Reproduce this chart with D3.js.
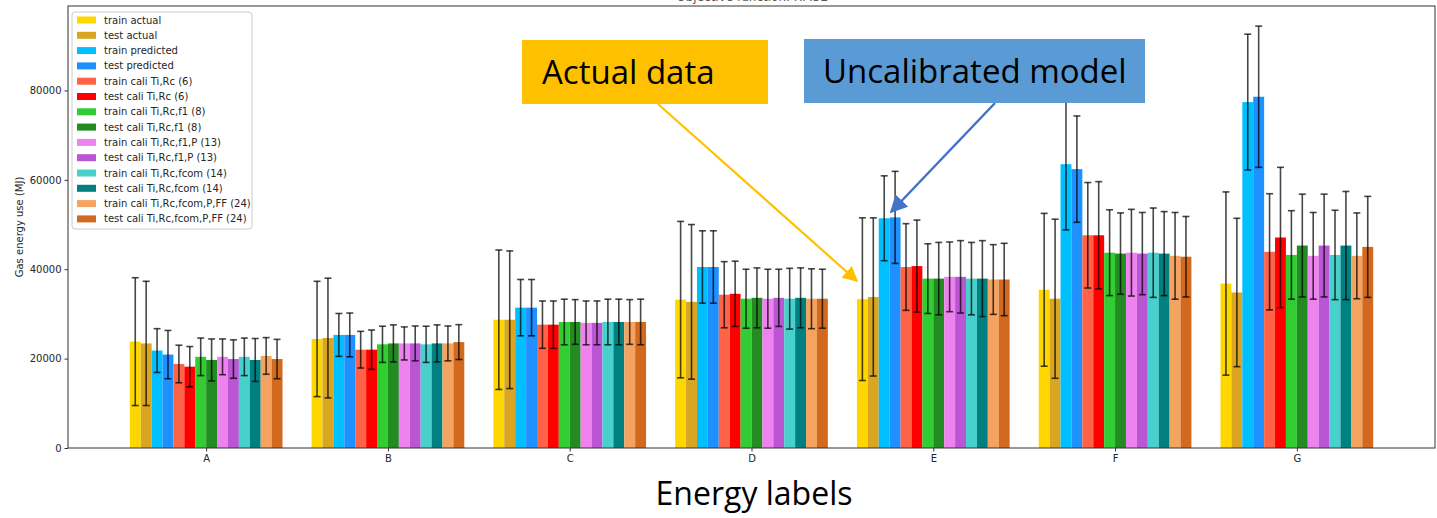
<!DOCTYPE html>
<html>
<head>
<meta charset="utf-8">
<script src="https://cdn.jsdelivr.net/npm/d3@7"></script>
<style>
  body { margin: 0; background: #fff; }
  svg { display: block; }
</style>
</head>
<body>
<div id="chart"></div>
<script>
// energy label categories
let categories = ['A', 'B', 'C', 'D', 'E', 'F', 'G']

let seriesNames = [
    'train actual', 'test actual', 'train predicted', 'test predicted',
    'train cali Ti,Rc (6)', 'test cali Ti,Rc (6)',
    'train cali Ti,Rc,f1 (8)', 'test cali Ti,Rc,f1 (8)',
    'train cali Ti,Rc,f1,P (13)', 'test cali Ti,Rc,f1,P (13)',
    'train cali Ti,Rc,fcom (14)', 'test cali Ti,Rc,fcom (14)',
    'train cali Ti,Rc,fcom,P,FF (24)', 'test cali Ti,Rc,fcom,P,FF (24)'
]

let seriesColors = [
    '#FFD700', '#DAA520', '#00BFFF', '#1E90FF', '#FF6347', '#FF0000', '#32CD32',
    '#228B22', '#EE82EE', '#BA55D3', '#48D1CC', '#008080', '#F4A460', '#D2691E'
]

// mean gas use per label (MJ), one row per series
let means = [
    [23800, 24400, 28700, 33200, 33300, 35400, 36800],
    [23400, 24600, 28700, 32700, 33800, 33400, 34800],
    [21800, 25300, 31400, 40500, 51400, 63500, 77400],
    [20900, 25300, 31400, 40500, 51600, 62400, 78600],
    [18800, 22000, 27600, 34300, 40500, 47600, 43900],
    [18200, 22000, 27600, 34500, 40700, 47600, 47100],
    [20400, 23200, 28200, 33400, 37900, 43700, 43200],
    [19700, 23400, 28200, 33600, 37900, 43500, 45300],
    [20400, 23400, 28000, 33400, 38300, 43700, 43000],
    [19900, 23400, 28000, 33600, 38300, 43500, 45300],
    [20400, 23200, 28200, 33400, 37900, 43700, 43200],
    [19700, 23400, 28200, 33600, 37900, 43500, 45300],
    [20600, 23400, 28200, 33400, 37700, 43000, 43000],
    [19900, 23700, 28200, 33400, 37700, 42800, 45000]
]

// standard deviation (error bars)
let stds = [
    [14300, 12900, 15600, 17500, 18200, 17100, 20500],
    [13900, 13400, 15400, 17300, 17700, 17800, 16600],
    [4900, 4800, 6300, 8100, 9500, 14700, 15200],
    [5400, 4900, 6300, 8100, 10300, 11900, 15800],
    [4200, 4100, 5300, 7400, 9700, 11800, 13000],
    [4500, 4400, 5300, 7300, 10300, 12000, 15700],
    [4200, 4050, 5100, 6600, 7800, 9600, 9900],
    [4700, 4150, 5000, 6700, 8100, 9100, 11500],
    [4000, 3700, 4900, 6600, 7800, 9700, 9700],
    [4300, 3900, 4900, 6400, 8100, 9200, 11500],
    [4200, 4050, 5100, 6800, 8100, 10000, 10000],
    [4800, 4150, 5100, 6700, 8500, 9400, 12100],
    [4100, 3900, 5000, 6700, 7800, 9700, 9600],
    [4400, 3900, 5100, 6600, 8100, 9000, 11300]
]

let yTicks = [0, 20000, 40000, 60000, 80000]

var width = 1437, height = 518
var margin = { top: 6, right: 2, bottom: 70, left: 68 }
var barW = 0.06

var svg = d3.select('#chart').append('svg')
    .attr('width', width)
    .attr('height', height)
    .style('font-family', 'DejaVu Sans, sans-serif')

var x = d3.scaleLinear()
    .domain([-0.76, 6.76])
    .range([margin.left, width - margin.right])

var y = d3.scaleLinear()
    .domain([0, 98900])
    .range([height - margin.bottom, margin.top])

// title, cut off at the top edge as in the original screenshot
svg.append('text')
    .attr('x', 752).attr('y', 1)
    .attr('text-anchor', 'middle')
    .attr('font-size', 12)
    .attr('fill', '#555')
    .text('Objective function: RMSE')

// bars
seriesNames.forEach(function (name, s) {
    var rows = categories.map((c, i) => ({ i: i, m: means[s][i], sd: stds[s][i] }))
    var off = (s - 6.5) * barW
    var g = svg.append('g').attr('class', 'series')

    g.selectAll('rect')
        .data(rows)
        .enter()
        .append('rect')
        .attr('x', d => x(d.i + off - barW / 2))
        .attr('width', x(barW) - x(0))
        .attr('y', d => y(d.m))
        .attr('height', d => y(0) - y(d.m))
        .attr('fill', seriesColors[s])
})

// error bars on top of all bars
seriesNames.forEach(function (name, s) {
    var off = (s - 6.5) * barW
    var rows = categories.map((c, i) => ({ cx: x(i + off), lo: means[s][i] - stds[s][i], hi: means[s][i] + stds[s][i] }))
    var g = svg.append('g').attr('class', 'err')
        .attr('stroke', '#000')
        .attr('stroke-opacity', 0.72)
        .attr('stroke-width', 1.6)
    g.selectAll('line.v').data(rows).enter().append('line').attr('class', 'v')
        .attr('x1', d => d.cx).attr('x2', d => d.cx)
        .attr('y1', d => y(d.lo)).attr('y2', d => y(d.hi))
    g.selectAll('line.t').data(rows).enter().append('line').attr('class', 't')
        .attr('x1', d => d.cx - 3.5).attr('x2', d => d.cx + 3.5)
        .attr('y1', d => y(d.hi)).attr('y2', d => y(d.hi))
    g.selectAll('line.b').data(rows).enter().append('line').attr('class', 'b')
        .attr('x1', d => d.cx - 3.5).attr('x2', d => d.cx + 3.5)
        .attr('y1', d => y(d.lo)).attr('y2', d => y(d.lo))
})

// axes
var xAxis = svg.append('g')
    .attr('transform', 'translate(0,' + y(0) + ')')
    .call(d3.axisBottom(x).tickValues(d3.range(categories.length)).tickFormat(i => categories[i]).tickSize(3.5).tickSizeOuter(0))
var yAxis = svg.append('g')
    .attr('transform', 'translate(' + margin.left + ',0)')
    .call(d3.axisLeft(y).tickValues(yTicks).tickFormat(d3.format('d')).tickSize(3.5).tickSizeOuter(0))

;[xAxis, yAxis].forEach(function (a) {
    a.select('.domain').remove()
    a.selectAll('line').attr('stroke', '#333')
    a.selectAll('text').attr('fill', '#262626').attr('font-size', 10).attr('font-family', 'DejaVu Sans, sans-serif')
})

// frame
svg.append('rect')
    .attr('x', margin.left).attr('y', margin.top)
    .attr('width', width - margin.right - margin.left)
    .attr('height', y(0) - margin.top)
    .attr('fill', 'none')
    .attr('stroke', '#333')
    .attr('stroke-width', 1)

svg.append('text')
    .attr('transform', 'translate(23,' + (margin.top + y(0)) / 2 + ') rotate(-90)')
    .attr('text-anchor', 'middle')
    .attr('font-size', 10)
    .attr('fill', '#262626')
    .text('Gas energy use (MJ)')

// legend
var legend = svg.append('g').attr('transform', 'translate(72,12)')
legend.append('rect')
    .attr('width', 180).attr('height', 217)
    .attr('rx', 3)
    .attr('fill', '#fff').attr('fill-opacity', 0.8)
    .attr('stroke', '#ccc')
var items = legend.selectAll('g.item')
    .data(seriesNames)
    .enter()
    .append('g')
    .attr('class', 'item')
    .attr('transform', (d, i) => 'translate(0,' + (8 + i * 15.3) + ')')
items.append('rect')
    .attr('x', 5).attr('y', -3.5)
    .attr('width', 19).attr('height', 7)
    .attr('fill', (d, i) => seriesColors[i])
items.append('text')
    .attr('x', 32).attr('y', 3.5)
    .attr('font-size', 10)
    .attr('fill', '#262626')
    .text(d => d)

// annotations drawn over the chart
svg.append('defs').selectAll('marker')
    .data([['goldHead', '#FFC000'], ['blueHead', '#4472C4']])
    .enter()
    .append('marker')
    .attr('id', d => d[0])
    .attr('viewBox', '0 0 10 10')
    .attr('refX', 9).attr('refY', 5)
    .attr('markerWidth', 7).attr('markerHeight', 7)
    .attr('markerUnits', 'strokeWidth')
    .attr('orient', 'auto')
    .append('path')
    .attr('d', 'M0,0 L10,5 L0,10 z')
    .attr('fill', d => d[1])

svg.append('line')
    .attr('x1', 658).attr('y1', 104).attr('x2', 857).attr('y2', 281)
    .attr('stroke', '#FFC000').attr('stroke-width', 2.2)
    .attr('marker-end', 'url(#goldHead)')
svg.append('line')
    .attr('x1', 995).attr('y1', 103).attr('x2', 891).attr('y2', 212)
    .attr('stroke', '#4472C4').attr('stroke-width', 2.5)
    .attr('marker-end', 'url(#blueHead)')

svg.append('rect')
    .attr('x', 522).attr('y', 40).attr('width', 246).attr('height', 64)
    .attr('fill', '#FFC000')
svg.append('text')
    .attr('x', 542).attr('y', 84)
    .attr('font-size', 33)
    .attr('font-family', 'Open Sans, sans-serif')
    .attr('fill', '#000')
    .text('Actual data')

svg.append('rect')
    .attr('x', 804).attr('y', 39).attr('width', 341).attr('height', 64)
    .attr('fill', '#5B9BD5')
svg.append('text')
    .attr('x', 823).attr('y', 83)
    .attr('font-size', 33)
    .attr('font-family', 'Open Sans, sans-serif')
    .attr('fill', '#000')
    .text('Uncalibrated model')

svg.append('text')
    .attr('x', 754).attr('y', 505)
    .attr('text-anchor', 'middle')
    .attr('font-size', 32)
    .attr('font-family', 'Open Sans, sans-serif')
    .attr('fill', '#000')
    .text('Energy labels')
</script>
</body>
</html>
